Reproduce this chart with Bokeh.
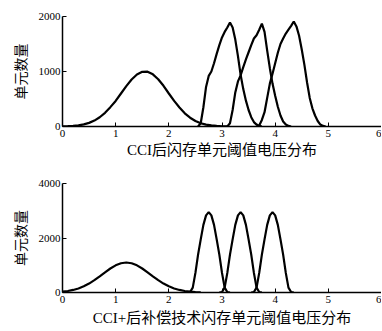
from bokeh.plotting import figure
from bokeh.layouts import column
from bokeh.models import Range1d, FixedTicker
from bokeh.embed import file_html
from bokeh.resources import INLINE

# ---------------- data ----------------
# top panel: after CCI
top_x0 = [0.0, 0.1, 0.2, 0.3, 0.4, 0.5, 0.6, 0.7, 0.8, 0.9, 1.0, 1.1, 1.2, 1.3, 1.4, 1.5,
          1.6, 1.7, 1.8, 1.9, 2.0, 2.1, 2.2, 2.3, 2.4, 2.5, 2.6, 2.7, 2.8, 2.9, 3.0, 3.1]
top_y0 = [3, 6, 11, 21, 38, 66, 108, 168, 249, 352, 465, 600, 735, 855, 946, 994,
          996, 948, 860, 740, 600, 465, 345, 240, 160, 100, 60, 34, 19, 10, 5, 2]

top_x1 = [2.55, 2.60, 2.65, 2.70, 2.75, 2.80, 2.85, 2.90, 2.95, 3.00, 3.05, 3.10, 3.15,
          3.20, 3.25, 3.30, 3.35, 3.40, 3.45, 3.50, 3.55, 3.60, 3.65, 3.70, 3.75]
top_y1 = [0, 60, 350, 720, 920, 1000, 1150, 1320, 1480, 1620, 1720, 1800, 1890,
          1800, 1580, 1280, 940, 680, 470, 300, 170, 80, 35, 10, 0]

top_x2 = [3.10, 3.15, 3.20, 3.25, 3.30, 3.35, 3.40, 3.45, 3.50, 3.55, 3.60, 3.65, 3.70,
          3.75, 3.80, 3.85, 3.90, 3.95, 4.00, 4.05, 4.10, 4.15, 4.20, 4.25, 4.30]
top_y2 = [0, 60, 300, 620, 820, 930, 1080, 1220, 1350, 1480, 1600, 1660, 1760,
          1870, 1720, 1380, 1060, 780, 560, 360, 200, 90, 35, 10, 0]

top_x3 = [3.65, 3.70, 3.75, 3.80, 3.85, 3.90, 3.95, 4.00, 4.05, 4.10, 4.15, 4.20, 4.25, 4.30,
          4.35, 4.40, 4.45, 4.50, 4.55, 4.60, 4.65, 4.70, 4.75, 4.80, 4.85, 4.90, 4.95]
top_y3 = [0, 20, 120, 260, 520, 780, 960, 1150, 1340, 1500, 1600, 1690, 1760, 1830,
          1910, 1820, 1650, 1400, 1120, 800, 520, 330, 200, 100, 35, 10, 0]

# bottom panel: after CCI + compensation
bot_x0 = [0.0, 0.1, 0.2, 0.3, 0.4, 0.5, 0.6, 0.7, 0.8, 0.9, 1.0, 1.1, 1.2, 1.3, 1.4,
          1.5, 1.6, 1.7, 1.8, 1.9, 2.0, 2.1, 2.2, 2.3, 2.4, 2.5, 2.6]
bot_y0 = [32, 55, 94, 149, 227, 328, 452, 594, 741, 881, 997, 1074, 1100, 1074, 997,
          881, 741, 594, 452, 328, 227, 149, 94, 55, 32, 17, 9]

bot_x1 = [2.35, 2.40, 2.45, 2.50, 2.55, 2.60, 2.65, 2.70, 2.75, 2.80, 2.85, 2.90, 2.95,
          3.00, 3.05, 3.10, 3.15]
bot_y1 = [0, 20, 180, 720, 1390, 1950, 2480, 2830, 2950, 2830, 2480, 1950, 1390,
          720, 180, 20, 0]

bot_x2 = [2.95, 3.00, 3.05, 3.10, 3.15, 3.20, 3.25, 3.30, 3.35, 3.40, 3.45, 3.50, 3.55,
          3.60, 3.65, 3.70, 3.75]
bot_y2 = [0, 20, 180, 720, 1390, 1950, 2480, 2830, 2950, 2830, 2480, 1950, 1390,
          720, 180, 20, 0]

bot_x3 = [3.55, 3.60, 3.65, 3.70, 3.75, 3.80, 3.85, 3.90, 3.95, 4.00, 4.05, 4.10, 4.15,
          4.20, 4.25, 4.30, 4.35]
bot_y3 = [0, 20, 180, 720, 1390, 1950, 2480, 2830, 2950, 2830, 2480, 1950, 1390,
          720, 180, 20, 0]

x_ticks = [0, 1, 2, 3, 4, 5, 6]
top_y_ticks = [0, 1000, 2000]
bot_y_ticks = [0, 2000, 4000]
top_title = "CCI后闪存单元阈值电压分布"
bot_title = "CCI+后补偿技术闪存单元阈值电压分布"
y_title = "单元数量"

SERIF = "'Liberation Serif', 'Noto Sans CJK SC'"
CJK = "'Liberation Serif', 'Noto Sans CJK SC'"


def style(p, yticks, xlabel, title_standoff):
    p.xgrid.visible = False
    p.ygrid.visible = False
    p.outline_line_color = None
    p.background_fill_color = "white"
    p.border_fill_color = "white"
    p.xaxis.ticker = FixedTicker(ticks=x_ticks)
    p.yaxis.ticker = FixedTicker(ticks=yticks)
    for ax in (p.xaxis[0], p.yaxis[0]):
        ax.axis_line_color = "black"
        ax.axis_line_width = 1.5
        ax.major_tick_in = 4
        ax.major_tick_out = 0
        ax.minor_tick_line_color = None
        ax.major_tick_line_color = "black"
        ax.major_label_text_font = SERIF
        ax.major_label_text_font_size = "11px"
        ax.major_label_text_color = "black"
        ax.axis_label_text_font_style = "normal"
        ax.axis_label_text_color = "black"
        ax.axis_label_text_font = CJK
    p.xaxis.axis_label = xlabel
    p.xaxis.axis_label_text_font_size = "15px"
    p.xaxis.major_label_standoff = 3
    p.xaxis.axis_label_standoff = title_standoff
    p.yaxis.axis_label = y_title
    p.yaxis.axis_label_text_font_size = "14px"
    p.yaxis.major_label_standoff = 2
    p.yaxis.axis_label_standoff = 7


top = figure(width=381, height=165, output_backend="svg", toolbar_location=None,
             x_range=Range1d(0, 6), y_range=Range1d(0, 2000),
             min_border_left=62, min_border_right=0, min_border_top=16, min_border_bottom=39)
style(top, top_y_ticks, top_title, 2)
for xs, ys in ((top_x0, top_y0), (top_x1, top_y1), (top_x2, top_y2), (top_x3, top_y3)):
    top.line(xs, ys, line_color="black", line_width=2.2)

bot = figure(width=381, height=165, output_backend="svg", toolbar_location=None,
             x_range=Range1d(0, 6), y_range=Range1d(0, 4000),
             min_border_left=62, min_border_right=0, min_border_top=18, min_border_bottom=38)
style(bot, bot_y_ticks, bot_title, 4)
for xs, ys in ((bot_x0, bot_y0), (bot_x1, bot_y1), (bot_x2, bot_y2), (bot_x3, bot_y3)):
    bot.line(xs, ys, line_color="black", line_width=2.2)

layout = column(top, bot, spacing=0)
open("out.html", "w").write(file_html(layout, INLINE))
